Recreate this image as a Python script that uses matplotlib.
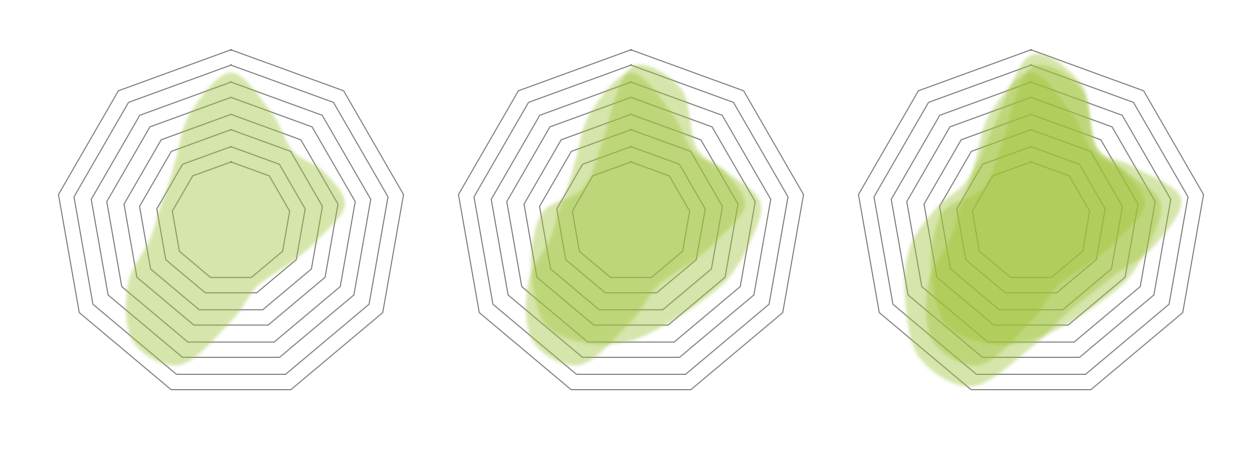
import numpy as np
import matplotlib
matplotlib.use('Agg')
import matplotlib.pyplot as plt
from matplotlib.path import Path
from matplotlib.patches import PathPatch

# spoke directions of the blob outlines (deg, clockwise from top)
blob_angles = [90, 70, 50, 30, 10, -10, -30, -50, -70, -90,
               -110, -130, -150, -170, 170, 150, 130, 110]

# grid rings (outer ring = 100)
rings = [34, 43, 53, 62, 72, 81, 91, 100]
n_axes = 9

# blob radii, same scale as the rings
blob_a = [87, 68, 55, 61, 66, 50, 41, 37, 39, 55, 85, 87, 68, 47, 42, 42, 49, 68]
blob_b = [90, 83, 58, 62, 75, 68, 63, 59, 60, 66, 72, 75, 65, 57, 50, 36, 36, 49]
blob_c = [97, 85, 58, 67, 87, 71, 56, 52, 55, 70, 98, 99, 83, 70, 55, 45, 47, 61]

panels = [[blob_a], [blob_a, blob_b], [blob_a, blob_b, blob_c]]

fill_rgb = (0.627, 0.765, 0.216)
fill_alpha = 0.42
grid_color = '#8e8e8e'


def soft_fill(rgb, alpha, sigma):
    # blur the drawn blob and give it one flat alpha
    def filt(im, dpi):
        pad = int(3 * sigma) + 2
        a = np.pad(im[:, :, 3], pad)
        k = np.exp(-0.5 * (np.arange(-pad, pad + 1) / sigma) ** 2)
        k /= k.sum()
        a = np.apply_along_axis(lambda v: np.convolve(v, k, 'same'), 0, a)
        a = np.apply_along_axis(lambda v: np.convolve(v, k, 'same'), 1, a)
        out = np.empty(a.shape + (4,))
        out[..., :3] = rgb
        out[..., 3] = np.clip(a, 0, 1) * alpha
        return out, -pad, -pad
    return filt


def blob_path(values):
    # smooth closed curve through the radar points (Catmull-Rom as Bezier)
    ang = np.deg2rad(blob_angles)
    r = np.asarray(values, float)
    pts = np.column_stack([r * np.cos(ang), r * np.sin(ang)])
    n = len(pts)
    verts = [pts[0]]
    codes = [Path.MOVETO]
    for i in range(n):
        p0, p1, p2, p3 = pts[i - 1], pts[i], pts[(i + 1) % n], pts[(i + 2) % n]
        verts += [p1 + (p2 - p0) / 6, p2 - (p3 - p1) / 6, p2]
        codes += [Path.CURVE4] * 3
    return Path(verts, codes)


W, H = 1252, 465
px_per_unit = 1.752
fig = plt.figure(figsize=(W / 100, H / 100), dpi=100)
fig.patch.set_facecolor('white')

centers_x = [231, 631, 1031]
center_y = 225  # from the top

for cx, blobs in zip(centers_x, panels):
    ax = fig.add_axes([(cx - 200) / W, 0, 400 / W, 1])
    ax.set_xlim(-200 / px_per_unit, 200 / px_per_unit)
    ax.set_ylim(-(H - center_y) / px_per_unit, center_y / px_per_unit)
    ax.axis('off')

    # nonagon rings, kept centred on the same bounding box
    t = np.deg2rad(90 - 360 / n_axes * np.arange(n_axes + 1))
    for R in rings:
        dy = (rings[-1] - R) * (1 - np.cos(np.pi / n_axes)) / 2
        ax.plot(R * np.cos(t), R * np.sin(t) + dy, color=grid_color, lw=0.9, zorder=1)

    for vals in blobs:
        p = PathPatch(blob_path(vals), facecolor=fill_rgb, edgecolor='none', zorder=2)
        p.set_agg_filter(soft_fill(fill_rgb, fill_alpha, 1.5))
        ax.add_patch(p)

plt.savefig('out.png', dpi=100, facecolor='white')
